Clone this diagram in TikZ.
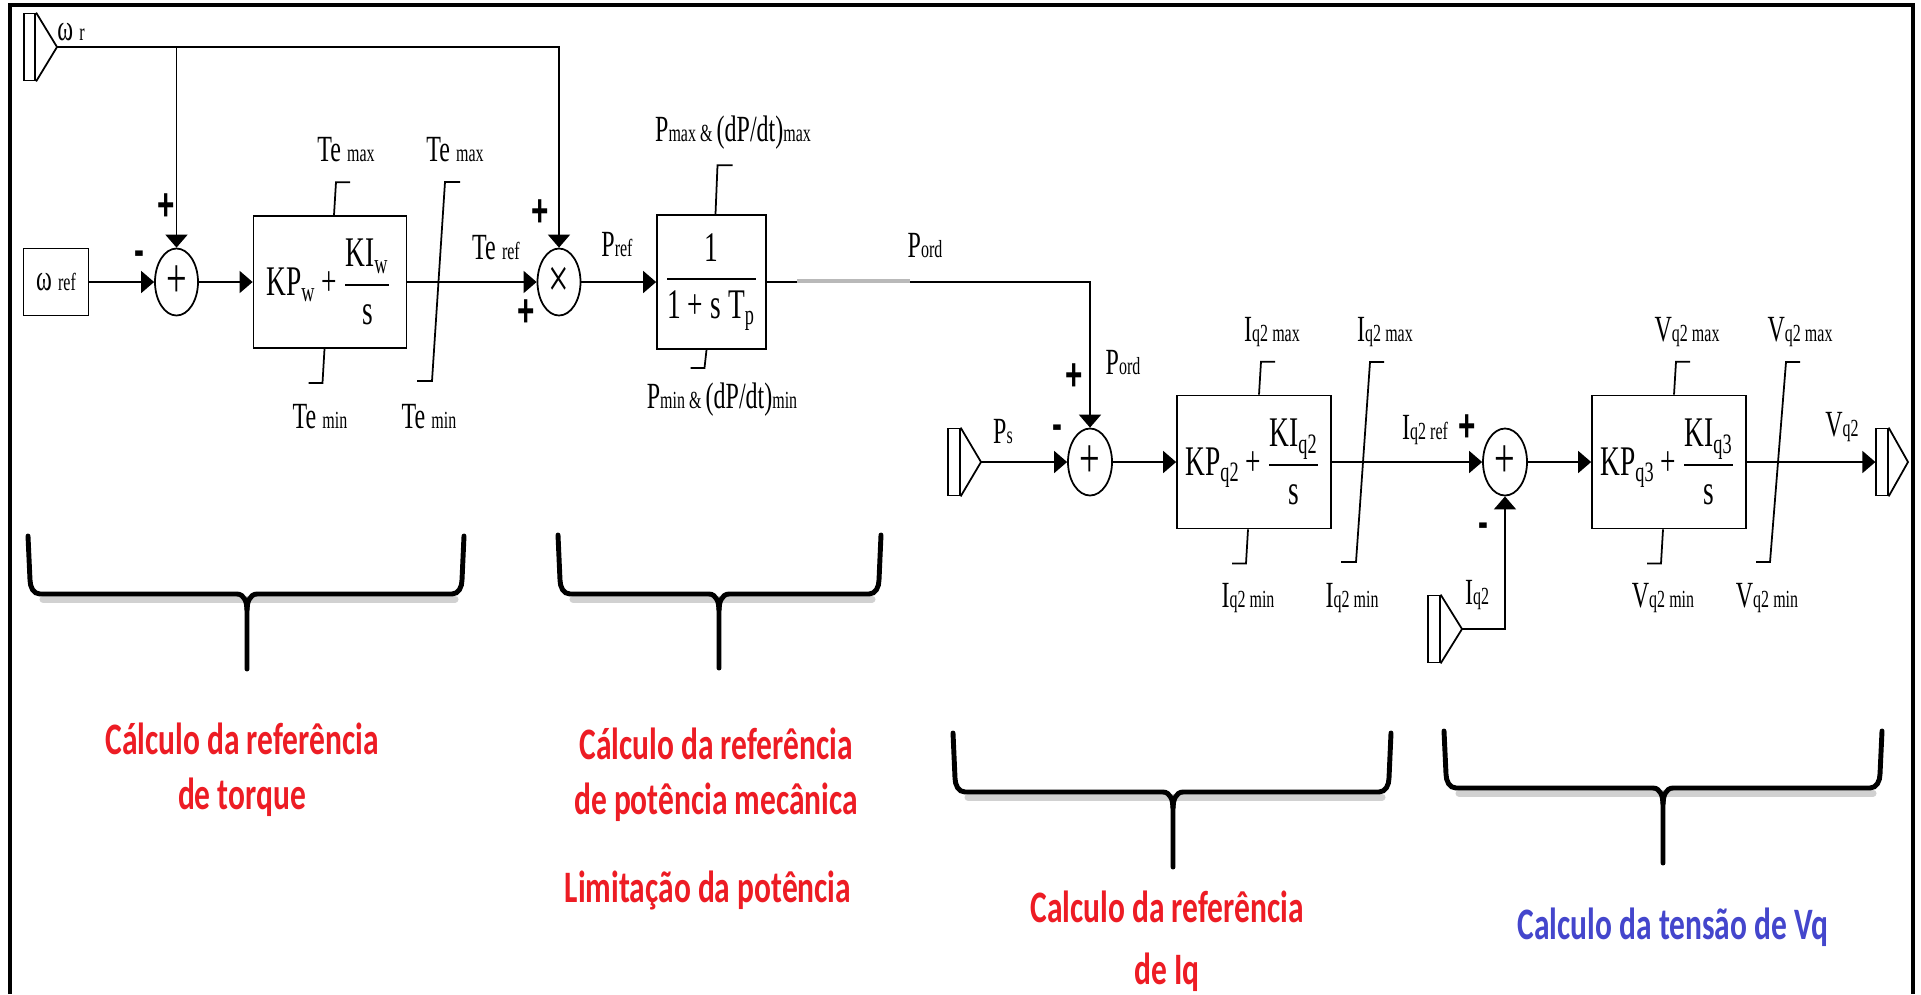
\documentclass[tikz,border=0pt]{standalone}
\usepackage{amsmath}
\usepackage{fontspec}
\setmainfont{Liberation Serif}[FakeStretch=0.65]
\newfontfamily\signfont{Liberation Sans}[FakeStretch=0.65]
\newfontfamily\notefont{Carlito}[FakeStretch=0.7]
\usetikzlibrary{arrows.meta,positioning,shapes.geometric}
\definecolor{notered}{RGB}{237,28,36}
\definecolor{noteblue}{RGB}{68,70,204}
\newcommand{\lo}[1]{{\fontsize{7}{8}\selectfont #1}}

\begin{document}
\begin{tikzpicture}[x=0.1mm,y=-0.1mm]
\tikzset{
  block/.style={draw,line width=0.5pt,inner sep=0pt,font=\fontsize{12}{14}\selectfont},
  sumnode/.style={ellipse,draw,line width=0.5pt,inner sep=0pt,minimum width=4.3mm,minimum height=6.7mm,font=\fontsize{16}{16}\selectfont},
  port/.style={draw,line width=0.5pt,inner sep=0pt,minimum width=1.15mm,minimum height=6.7mm},
  signal/.style={-{Triangle[length=1.3mm,width=2.2mm]},line width=0.5pt},
  wire/.style={line width=0.5pt},
  limit/.style={line width=0.5pt},
  lbl/.style={inner sep=0pt,font=\fontsize{10.5}{12}\selectfont},
  sign/.style={inner sep=0pt,font=\signfont\bfseries\fontsize{13}{13}\selectfont},
  bracket/.style={line width=1.4pt,line cap=round},
  note/.style={align=center,inner sep=0pt,font=\notefont\bfseries\fontsize{12.8}{15.6}\selectfont}
}
\useasboundingbox[fill=white] (0,0) rectangle (1921,994);
\draw[line width=0.9pt] (10,994) -- (10,5) -- (1913,5) -- (1913,994);
\node[port] (n_wr) at (29.5,47) {};
\coordinate (n_wrtip) at (57,47);
\node[block,minimum width=6.5mm,minimum height=6.7mm,font=\fontsize{10.5}{12}\selectfont] (n_wref) at (56,282) {ω\,\lo{ref}};
\node[sumnode] (n_sum1) at (176.5,282) {+};
\node[block,minimum width=15.3mm,minimum height=13.2mm] (n_pi1) at (330,282) {$\text{KP}_{\text{w}}\mkern2mu\text{+}\mkern2mu\dfrac{\text{KI}_{\text{w}}}{\text{s}}$};
\node[sumnode] (n_mult) at (559,282) {×};
\node[block,minimum width=10.9mm,minimum height=13.4mm] (n_lag) at (711.5,282) {$\dfrac{\text{1}}{\text{1\,+\,s\,T}_{\text{p}}}$};
\node[port] (n_ps) at (954,462) {};
\coordinate (n_pstip) at (981,462);
\node[sumnode,minimum width=4.4mm] (n_sum2) at (1090,462) {+};
\node[block,minimum width=15.4mm,minimum height=13.3mm] (n_pi2) at (1254,462) {$\text{KP}_{\text{q2}}\mkern2mu\text{+}\mkern2mu\dfrac{\text{KI}_{\text{q2}}}{\text{s}}$};
\node[sumnode,minimum width=4.4mm] (n_sum3) at (1505,462) {+};
\node[port] (n_iq) at (1434,629) {};
\coordinate (n_iqtip) at (1462,629);
\node[block,minimum width=15.4mm,minimum height=13.3mm] (n_pi3) at (1669,462) {$\text{KP}_{\text{q3}}\mkern2mu\text{+}\mkern2mu\dfrac{\text{KI}_{\text{q3}}}{\text{s}}$};
\node[port] (n_vq) at (1882,462) {};
\coordinate (n_vqtip) at (1908,462);
\draw[wire] (n_wr.north east) -- (n_wrtip) -- (n_wr.south east);
\draw[wire] (n_ps.north east) -- (n_pstip) -- (n_ps.south east);
\draw[wire] (n_iq.north east) -- (n_iqtip) -- (n_iq.south east);
\draw[wire] (n_vq.north east) -- (n_vqtip) -- (n_vq.south east);
\draw[signal] (n_wrtip) -| (n_mult);
\draw[signal] (n_sum1.north |- n_wrtip) -- (n_sum1);
\draw[signal] (n_wref) -- (n_sum1);
\draw[signal] (n_sum1) -- (n_pi1);
\draw[signal] (n_pi1) -- (n_mult);
\draw[signal] (n_mult) -- (n_lag);
\draw[signal] (n_lag) -| (n_sum2);
\draw[gray!55,line width=0.9pt] (797,281) -- (910,281);
\draw[signal] (n_pstip) -- (n_sum2);
\draw[signal] (n_sum2) -- (n_pi2);
\draw[signal] (n_pi2) -- (n_sum3);
\draw[signal] (n_iqtip) -| (n_sum3);
\draw[signal] (n_sum3) -- (n_pi3);
\draw[signal] (n_pi3) -- (n_vq);
\draw[limit] (n_pi1.north) ++(4,0) -- ++(2,-33) -- ++(14,0);
\draw[limit] (n_pi1.south) ++(-5.5,0) -- ++(-2,34) -- ++(-14,0);
\draw[limit] (n_lag.north) ++(4,0) -- ++(2,-49) -- ++(15,0);
\draw[limit] (n_lag.south) ++(-5,0) -- ++(-2,18) -- ++(-14,0);
\draw[limit] (n_pi2.north) ++(5,0) -- ++(2,-33) -- ++(14,0);
\draw[limit] (n_pi2.south) ++(-6,0) -- ++(-2,34) -- ++(-14,0);
\draw[limit] (n_pi3.north) ++(5,0) -- ++(2,-33) -- ++(14,0);
\draw[limit] (n_pi3.south) ++(-6,0) -- ++(-2,34) -- ++(-14,0);
\draw[limit] (417,381) -- (432,381) -- (445,182) -- (460,182);
\draw[limit] (1341,562) -- (1356,562) -- (1370,362) -- (1384,362);
\draw[limit] (1756,562) -- (1770,562) -- (1786,362) -- (1800,362);
\node[lbl] (n_wrlbl) at (71,32) {ω\,\lo{r}};
\node[lbl] (n_temax1) at (346,150) {Te\,\lo{max}};
\node[lbl] (n_temin1) at (320,417) {Te\,\lo{min}};
\node[lbl] (n_temax2) at (455,150) {Te\,\lo{max}};
\node[lbl] (n_temin2) at (429,417) {Te\,\lo{min}};
\node[lbl] (n_teref) at (496,248) {Te\,\lo{ref}};
\node[lbl] (n_pref) at (617,245) {P\lo{ref}};
\node[lbl] (n_pmax) at (733,133) {P\lo{max\,\&\,}(dP/dt)\lo{max}};
\node[lbl] (n_pmin) at (722,400) {P\lo{min\,\&\,}(dP/dt)\lo{min}};
\node[lbl] (n_pord1) at (925,246) {P\lo{ord}};
\node[lbl] (n_pord2) at (1123,363) {P\lo{ord}};
\node[lbl] (n_pslbl) at (1003,432) {P\lo{s}};
\node[lbl] (n_iqmax1) at (1272,332) {I\lo{q2\,max}};
\node[lbl] (n_iqmin1) at (1248,598) {I\lo{q2\,min}};
\node[lbl] (n_iqmax2) at (1385,332) {I\lo{q2\,max}};
\node[lbl] (n_iqmin2) at (1352,598) {I\lo{q2\,min}};
\node[lbl] (n_iqref) at (1425,430) {I\lo{q2\,ref}};
\node[lbl] (n_iqlbl) at (1477,595) {I\lo{q2}};
\node[lbl] (n_vqmax1) at (1687,332) {V\lo{q2\,max}};
\node[lbl] (n_vqmin1) at (1663,598) {V\lo{q2\,min}};
\node[lbl] (n_vqmax2) at (1800,332) {V\lo{q2\,max}};
\node[lbl] (n_vqmin2) at (1767,598) {V\lo{q2\,min}};
\node[lbl] (n_vqlbl) at (1842,427) {V\lo{q2}};
\node[sign] (n_s1p) at (166,207) {+};
\node[sign] (n_s1m) at (139,258) {-};
\node[sign] (n_mp1) at (540,213) {+};
\node[sign] (n_mp2) at (526,313) {+};
\node[sign] (n_s2p) at (1074,377) {+};
\node[sign] (n_s2m) at (1057,432) {-};
\node[sign] (n_s3p) at (1467,428) {+};
\node[sign] (n_s3m) at (1483,530) {-};
\foreach \l/\r/\t/\h/\m/\b in {28/464/536/594/247/669,558/881/535/594/719/668,953/1391/733/792/1173/867,1444/1882/731/788/1663/863}{
  \draw[bracket,black!18,line width=2pt] (\l+12+3,\h+5) -- (\r-12+3,\h+5);
  \draw[bracket] (\l,\t) -- (\l+2,\h-14) to[out=-90,in=180] (\l+12,\h) -- (\m-10,\h) to[out=0,in=90] (\m,\h+16) -- (\m,\b);
  \draw[bracket] (\r,\t) -- (\r-2,\h-14) to[out=-90,in=0] (\r-12,\h) -- (\m+10,\h) to[out=180,in=90] (\m,\h+16);
}
\node[note,text=notered] (n_note1) at (242,770) {Cálculo da referência\\de torque};
\node[note,text=notered] (n_note2) at (716,775) {Cálculo da referência\\de potência mecânica};
\node[note,text=notered] (n_note2b) at (708,890) {Limitação da potência};
\node[note,text=notered] (n_note3) at (1167,941) {Calculo da referência\\[2pt]de Iq};
\node[note,text=noteblue] (n_note4) at (1673,927) {Calculo da tensão de Vq};
\end{tikzpicture}
\end{document}
